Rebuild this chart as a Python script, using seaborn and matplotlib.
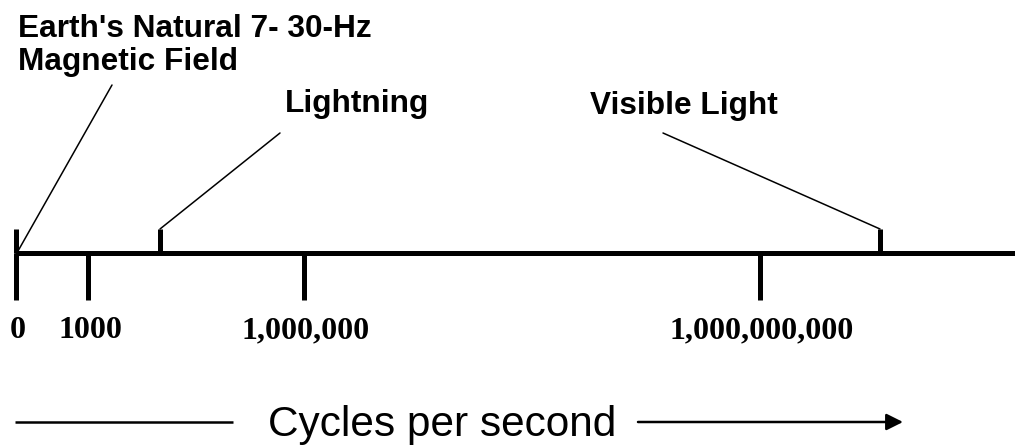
import matplotlib
matplotlib.use("Agg")
import matplotlib.pyplot as plt
import seaborn as sns

# --- data ---
freq_hz = [0, 1_000, 1_000_000, 1_000_000_000]
freq_labels = ["0", "1000", "1,000,000", "1,000,000,000"]
source_names = ["Earth's Natural 7- 30-Hz", "Lightning", "Visible Light"]
source_extra = ["Magnetic Field", "", ""]
axis_title = "Cycles per second"

# --- layout (schematic axis, not to scale) ---
tick_pos = [16, 88, 304, 760]
source_pos = [16, 160, 880]
leader_start_y = [251, 229, 229]
leader_end = [(112, 85), (280, 133), (663, 133)]
label_xy = [(18, 37), (285, 112), (590, 114)]
axis_y = 253

sns.set_theme(style="white")
plt.rcParams['font.family'] = ['Liberation Sans', 'DejaVu Sans']
plt.rcParams['text.color'] = 'black'

fig = plt.figure(figsize=(10.15, 4.47), dpi=100)
ax = fig.add_axes([0, 0, 1, 1])
ax.set_xlim(0, 1015)
ax.set_ylim(447, 0)
ax.axis('off')

# main frequency line
ax.plot([15, 1015], [axis_y, axis_y], color='black', lw=3.6, solid_capstyle='butt')

# value ticks below the line
for x, lab in zip(tick_pos, freq_labels):
    ax.plot([x, x], [axis_y, 300], color='black', lw=3.6, solid_capstyle='butt')
    ax.text(x + 2, 338, lab, ha='center', va='baseline', fontsize=23,
            fontweight='bold', color='black',
            family=['Liberation Serif', 'DejaVu Serif'])

# sources marked above the line with leader lines
for i, name in enumerate(source_names):
    x = source_pos[i]
    ax.plot([x, x], [229, axis_y], color='black', lw=3.6, solid_capstyle='butt')
    x0 = x + 2 if leader_start_y[i] > 240 else x
    ax.plot([x0, leader_end[i][0]], [leader_start_y[i], leader_end[i][1]],
            color='black', lw=1.1)
    lx, ly = label_xy[i]
    ax.text(lx, ly, name, ha='left', va='baseline', fontsize=22.8,
            fontweight='bold', color='black')
    if source_extra[i]:
        ax.text(lx, ly + 33, source_extra[i], ha='left', va='baseline',
                fontsize=22.8, fontweight='bold', color='black')

# bottom caption with arrow
ax.plot([15, 233], [422, 422], color='black', lw=1.8, solid_capstyle='butt')
ax.text(268, 436, axis_title, ha='left', va='baseline', fontsize=30.5, color='black')
ax.annotate('', xy=(903, 422), xytext=(638, 422),
            arrowprops=dict(arrowstyle='-|>', mutation_scale=25, lw=1.8,
                            color='black', shrinkA=0, shrinkB=0))

fig.savefig('out.png', dpi=100)
